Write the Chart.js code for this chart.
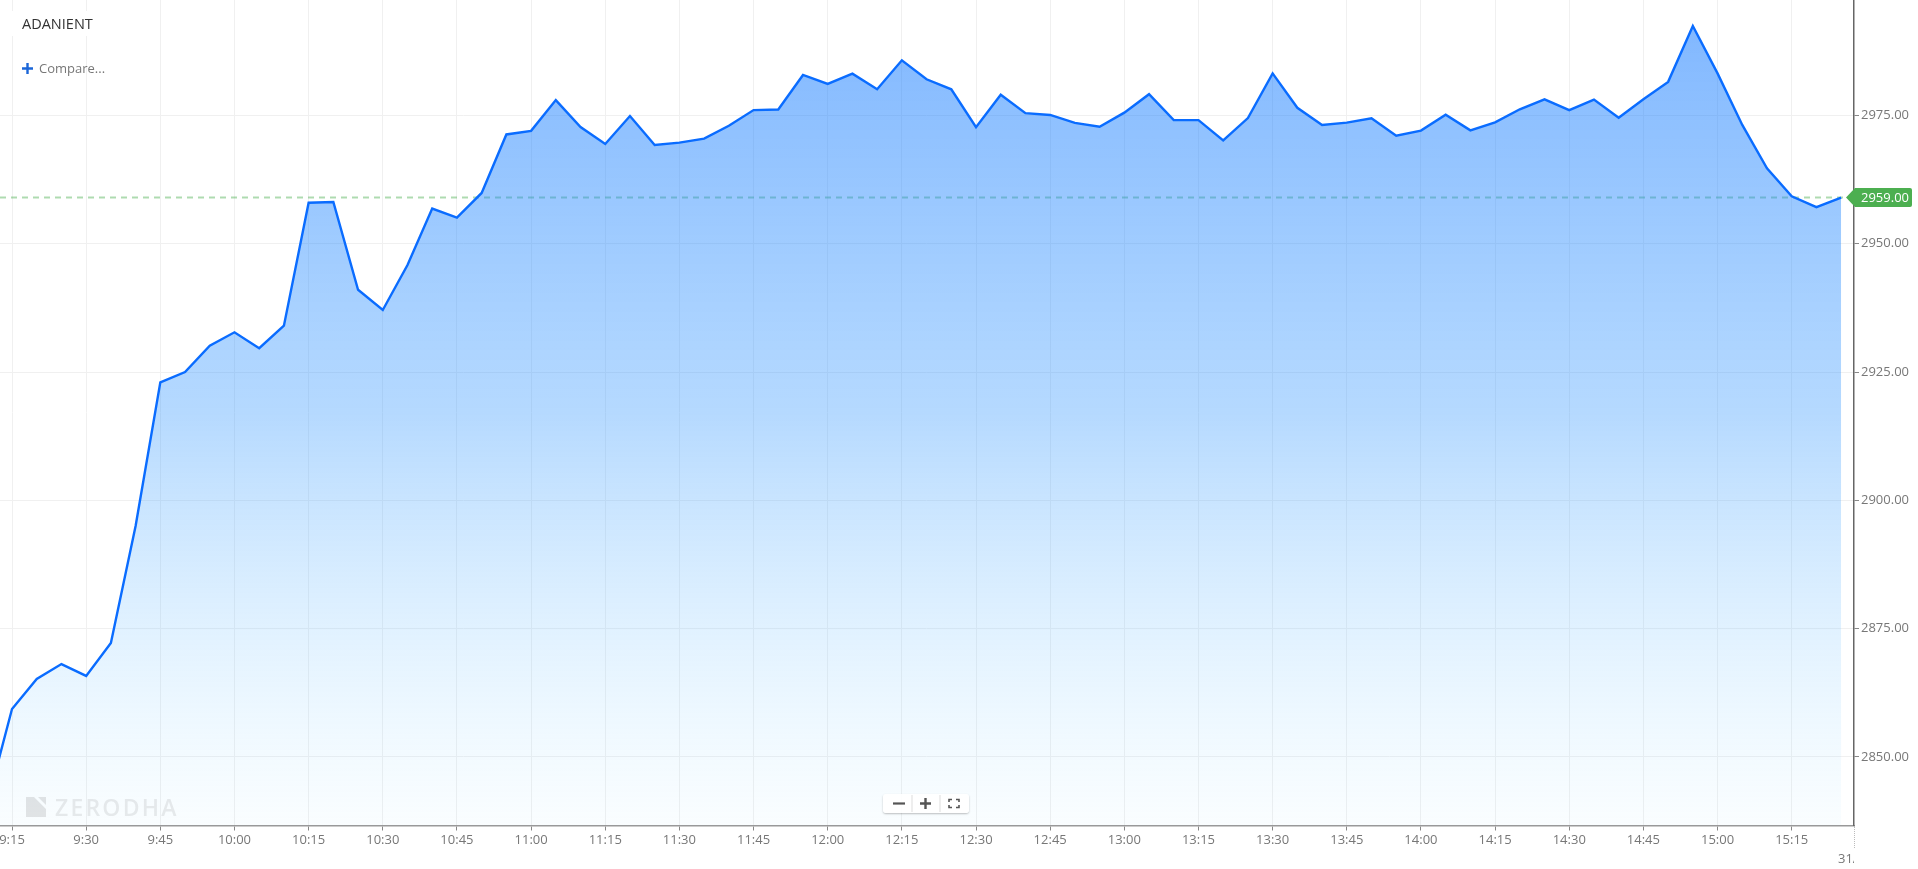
<!DOCTYPE html>
<html>
<head>
<meta charset="utf-8">
<title>ADANIENT</title>
<script src="https://cdn.jsdelivr.net/npm/chart.js@4"></script>
<style>
    html, body { margin: 0; padding: 0; background: #fff; overflow: hidden; }
    body { width: 1918px; height: 869px; position: relative; font-family: "Open Sans", sans-serif; }
    canvas { position: absolute; left: 0; top: 0; }
    .overlay { position: absolute; white-space: nowrap; }
    #symbol { left: 10px; top: 11px; width: 78px; height: 25px; line-height: 25px; padding-left: 12px; box-sizing: border-box; background: #fff; color: #333; font-size: 14.5px; }
    #compare-plus { left: 22px; top: 63px; width: 11px; height: 11px; }
    #compare { left: 39px; top: 58px; line-height: 20px; color: #777; font-size: 13px; }
    #date-tick { left: 1854px; top: 826px; height: 22px; border-left: 1px dotted #bbb; }
    #date-label { left: 1824px; top: 848px; width: 30px; height: 20px; line-height: 20px; overflow: hidden; text-align: left; color: #777; font-size: 13px; text-indent: 14px; }
    #watermark { left: 26px; top: 795px; width: 170px; height: 24px; color: rgba(110,110,110,0.14); }
    #watermark svg { position: absolute; left: 0; top: 2px; }
    #watermark span { position: absolute; left: 29px; top: 0; line-height: 24px; font-size: 23px; font-weight: 600; letter-spacing: 2.2px; }
    #zoom-box { left: 883px; top: 794px; width: 86px; height: 19px; background: rgba(255,255,255,0.9); border-radius: 3px; box-shadow: 0 1px 2px rgba(0,0,0,0.25); }
    #zoom-box svg { position: absolute; left: 0; top: 0; }
</style>
</head>
<body>
<canvas id="chart" width="1918" height="869"></canvas>
<div class="overlay" id="symbol">ADANIENT</div>
<svg class="overlay" id="compare-plus" viewBox="0 0 11 11"><path d="M0 5.5H11M5.5 0V11" stroke="#1b66d8" stroke-width="2.4"/></svg>
<div class="overlay" id="compare">Compare...</div>
<div class="overlay" id="date-tick"></div>
<div class="overlay" id="date-label">31/</div>
<div class="overlay" id="watermark">
    <svg width="20" height="20" viewBox="0 0 20 20"><path d="M0 0H8L20 12V20H0Z M12 0H20V8Z" fill="rgba(110,110,110,0.18)"/></svg>
    <span>ZERODHA</span>
</div>
<div class="overlay" id="zoom-box">
    <svg width="86" height="19" viewBox="0 0 86 19">
        <path d="M10 9.5H22" stroke="#555" stroke-width="2.2"/>
        <path d="M29 1V18M57 1V18" stroke="#ddd" stroke-width="1"/>
        <path d="M37 9.5H48M42.5 4V15" stroke="#555" stroke-width="2.4"/>
        <path d="M66 8V5.5H69M73 5.5H76V8M76 11V13.5H73M69 13.5H66V11" fill="none" stroke="#555" stroke-width="1.6"/>
    </svg>
</div>

<script>
const chartCanvas = document.getElementById('chart');

const times = [
    '9:10', '9:15', '9:20', '9:25', '9:30', '9:35', '9:40', '9:45', '9:50', '9:55',
    '10:00', '10:05', '10:10', '10:15', '10:20', '10:25', '10:30', '10:35', '10:40', '10:45',
    '10:50', '10:55', '11:00', '11:05', '11:10', '11:15', '11:20', '11:25', '11:30', '11:35',
    '11:40', '11:45', '11:50', '11:55', '12:00', '12:05', '12:10', '12:15', '12:20', '12:25',
    '12:30', '12:35', '12:40', '12:45', '12:50', '12:55', '13:00', '13:05', '13:10', '13:15',
    '13:20', '13:25', '13:30', '13:35', '13:40', '13:45', '13:50', '13:55', '14:00', '14:05',
    '14:10', '14:15', '14:20', '14:25', '14:30', '14:35', '14:40', '14:45', '14:50', '14:55',
    '15:00', '15:05', '15:10', '15:15', '15:20', '15:25'
];

const prices = [
    2841.0, 2859.35, 2865.2, 2868.1, 2865.8, 2872.2, 2895.0, 2923.0, 2925.0, 2930.15,
    2932.75, 2929.65, 2934.05, 2958.0, 2958.15, 2941.05, 2937.1, 2945.85, 2956.85, 2955.1,
    2959.9, 2971.3, 2972.0, 2978.0, 2972.75, 2969.45, 2974.9, 2969.25, 2969.7, 2970.5,
    2973.0, 2976.05, 2976.15, 2982.9, 2981.15, 2983.15, 2980.1, 2985.75, 2982.05, 2980.1,
    2972.7, 2979.05, 2975.45, 2975.1, 2973.55, 2972.8, 2975.55, 2979.15, 2974.1, 2974.1,
    2970.15, 2974.5, 2983.2, 2976.5, 2973.15, 2973.6, 2974.45, 2971.05, 2972.05, 2975.15,
    2972.1, 2973.65, 2976.2, 2978.15, 2976.05, 2978.1, 2974.55, 2978.15, 2981.55, 2992.45,
    2983.2, 2973.15, 2964.7, 2959.25, 2957.15, 2959.0
];

const timeTicks = [
    '9:15', '9:30', '9:45', '10:00', '10:15', '10:30', '10:45', '11:00', '11:15',
    '11:30', '11:45', '12:00', '12:15', '12:30', '12:45', '13:00', '13:15', '13:30',
    '13:45', '14:00', '14:15', '14:30', '14:45', '15:00', '15:15'
];

const priceTicks = [2850, 2875, 2900, 2925, 2950, 2975];

const lastPrice = 2959.0;

function toMinutes(time) {
    const parts = time.split(':');
    return parseInt(parts[0]) * 60 + parseInt(parts[1]);
}

function toTimeLabel(minutes) {
    const mins = minutes % 60;
    return Math.floor(minutes / 60) + ':' + (mins < 10 ? '0' + mins : mins);
}

const xMin = 552.57;
const xMax = 927.6;

// fill fades out towards the bottom of the plot
function areaFill(context) {
    const area = context.chart.chartArea;
    if (!area) return 'rgba(20,120,252,0.5)';
    const gradient = context.chart.ctx.createLinearGradient(0, area.top, 0, area.bottom);
    gradient.addColorStop(0, 'rgba(10,115,255,0.53)');
    gradient.addColorStop(0.5, 'rgba(50,150,255,0.36)');
    gradient.addColorStop(1, 'rgba(150,220,255,0.05)');
    return gradient;
}

// green label on the axis for the last traded price
const priceTag = {
    id: 'priceTag',
    afterDraw(chart) {
        const ctx = chart.ctx;
        const y = chart.scales.y.getPixelForValue(lastPrice);
        ctx.save();
        ctx.fillStyle = '#4caf50';
        ctx.beginPath();
        ctx.moveTo(1846, y);
        ctx.lineTo(1855, y - 9.5);
        ctx.lineTo(1910, y - 9.5);
        ctx.quadraticCurveTo(1912, y - 9.5, 1912, y - 7.5);
        ctx.lineTo(1912, y + 7.5);
        ctx.quadraticCurveTo(1912, y + 9.5, 1910, y + 9.5);
        ctx.lineTo(1855, y + 9.5);
        ctx.closePath();
        ctx.fill();
        ctx.fillStyle = '#fff';
        ctx.font = '13px "Open Sans"';
        ctx.textAlign = 'left';
        ctx.textBaseline = 'middle';
        ctx.fillText(lastPrice.toFixed(2), 1861, y + 0.5);
        ctx.restore();
    }
};

new Chart(chartCanvas, {
    type: 'line',
    data: {
        datasets: [
            {
                data: prices.map((p, i) => ({ x: toMinutes(times[i]), y: p })),
                borderColor: '#0a6cff',
                borderWidth: 2.4,
                backgroundColor: areaFill,
                fill: 'start',
                pointRadius: 0,
                tension: 0,
                order: 1
            },
            {
                data: [{ x: xMin, y: lastPrice }, { x: xMax, y: lastPrice }],
                borderColor: 'rgba(76,175,80,0.45)',
                borderWidth: 2,
                borderDash: [6, 5],
                pointRadius: 0,
                fill: false,
                order: 2
            }
        ]
    },
    options: {
        responsive: false,
        animation: false,
        layout: { padding: 0 },
        plugins: {
            legend: { display: false },
            title: { display: false },
            tooltip: { enabled: false }
        },
        scales: {
            x: {
                type: 'linear',
                min: xMin,
                max: xMax,
                afterBuildTicks(scale) {
                    scale.ticks = timeTicks.map(t => ({ value: toMinutes(t) }));
                },
                afterFit(scale) {
                    scale.height = 43.5;
                    scale.paddingLeft = 0;
                    scale.paddingRight = 0;
                },
                grid: { color: '#f0f0f0', lineWidth: 1, tickColor: '#888', tickLength: 5 },
                border: { color: '#999', width: 1.5 },
                ticks: {
                    autoSkip: false,
                    maxRotation: 0,
                    color: '#777',
                    padding: 2,
                    font: { family: '"Open Sans"', size: 13 },
                    callback: value => toTimeLabel(value)
                }
            },
            y: {
                position: 'right',
                min: 2836.65,
                max: 2997.5,
                afterBuildTicks(scale) {
                    scale.ticks = priceTicks.map(v => ({ value: v }));
                },
                afterFit(scale) {
                    scale.width = 64;
                    scale.paddingTop = 0;
                    scale.paddingBottom = 0;
                },
                grid: { color: '#f0f0f0', lineWidth: 1, tickColor: '#888', tickLength: 5 },
                border: { color: '#666', width: 1.5 },
                ticks: {
                    autoSkip: false,
                    color: '#777',
                    padding: 2,
                    font: { family: '"Open Sans"', size: 13 },
                    callback: value => value.toFixed(2)
                }
            }
        }
    },
    plugins: [priceTag]
});
</script>
</body>
</html>
